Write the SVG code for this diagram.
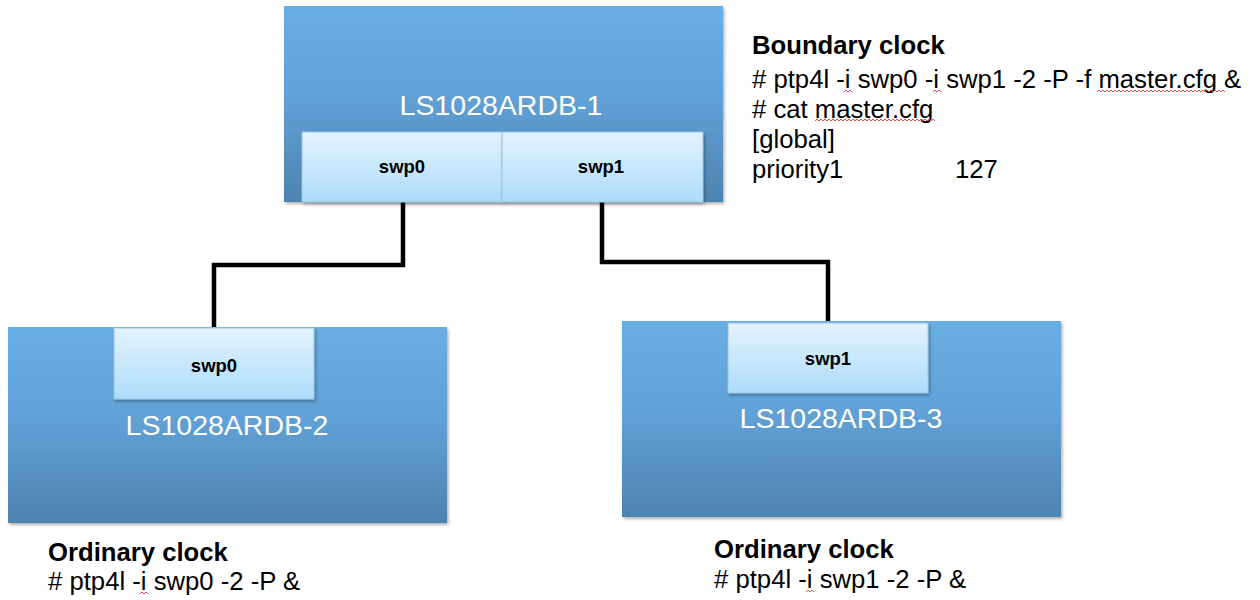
<svg xmlns="http://www.w3.org/2000/svg" width="1260" height="600" viewBox="0 0 1260 600">
<defs>
<linearGradient id="boxg" x1="0" y1="0" x2="0" y2="1">
<stop offset="0" stop-color="#69aee3"/>
<stop offset="0.45" stop-color="#61a2d8"/>
<stop offset="1" stop-color="#4e83af"/>
</linearGradient>
<linearGradient id="portg" x1="0" y1="0" x2="0" y2="1">
<stop offset="0" stop-color="#e4f3fd"/>
<stop offset="1" stop-color="#acdcfa"/>
</linearGradient>
<filter id="sh" x="-5%" y="-5%" width="112%" height="115%">
<feDropShadow dx="1.5" dy="2" stdDeviation="1.5" flood-color="#000" flood-opacity="0.3"/>
</filter>
</defs>
<style>
.box{fill:url(#boxg);filter:url(#sh);}
.port{fill:url(#portg);stroke:#9cc4e2;stroke-width:1;filter:url(#sh);}
.name{font-family:"Liberation Sans",Arial,sans-serif;font-size:28.5px;fill:#ffffff;text-anchor:middle;}
.plabel{font-family:"Liberation Sans",Arial,sans-serif;font-size:18.5px;font-weight:bold;fill:#000;text-anchor:middle;}
.hdr{font-family:"Liberation Sans",Arial,sans-serif;font-size:25.7px;font-weight:bold;fill:#000;}
.txt{font-family:"Liberation Sans",Arial,sans-serif;font-size:25.7px;fill:#000;}
.wire{fill:none;stroke:#000;stroke-width:4.5;stroke-linejoin:miter;}
.sq{fill:none;stroke:#e05050;stroke-width:1;}
</style>
<rect width="1260" height="600" fill="#ffffff"/>

<g id="connectors">
<polyline class="wire" points="403,202 403,265 214,265 214,327"/>
<polyline class="wire" points="602,202 602,262 828,262 828,322"/>
</g>

<g id="node-ls1028ardb-1">
<rect class="box" x="284" y="6" width="439" height="196"/>
<text class="name" x="501" y="115">LS1028ARDB-1</text>
<rect class="port" x="302" y="132" width="200" height="70"/>
<rect class="port" x="502" y="132" width="201" height="70"/>
<text class="plabel" x="402" y="173">swp0</text>
<text class="plabel" x="601" y="173">swp1</text>
</g>

<g id="node-ls1028ardb-2">
<rect class="box" x="8" y="327" width="439" height="196"/>
<rect class="port" x="114" y="328" width="200" height="71"/>
<text class="plabel" x="214" y="372">swp0</text>
<text class="name" x="227" y="435">LS1028ARDB-2</text>
</g>

<g id="node-ls1028ardb-3">
<rect class="box" x="622" y="321" width="439" height="196"/>
<rect class="port" x="728" y="323" width="200" height="70"/>
<text class="plabel" x="828" y="365">swp1</text>
<text class="name" x="841" y="428">LS1028ARDB-3</text>
</g>

<g id="note-boundary">
<text class="hdr" x="752" y="54">Boundary clock</text>
<text class="txt" x="752" y="88"># ptp4l -i swp0 -i swp1 -2 -P -f master.cfg &amp;</text>
<text class="txt" x="752" y="117.5"># cat master.cfg</text>
<text class="txt" x="752" y="147.5">[global]</text>
<text class="txt" x="752" y="178">priority1</text>
<text class="txt" x="955" y="178">127</text>
<path class="sq" d="M844,92 l2,-2 l2,2 l2,-2 l2,2"/>
<path class="sq" d="M933,92 l2,-2 l2,2 l2,-2 l2,2"/>
<path class="sq" d="M1097,92 l2,-2 l2,2 l2,-2 l2,2 l2,-2 l2,2 l2,-2 l2,2 l2,-2 l2,2 l2,-2 l2,2 l2,-2 l2,2 l2,-2 l2,2 l2,-2 l2,2 l2,-2 l2,2 l2,-2 l2,2 l2,-2 l2,2 l2,-2 l2,2 l2,-2 l2,2 l2,-2 l2,2 l2,-2 l2,2 l2,-2 l2,2 l2,-2 l2,2 l2,-2 l2,2 l2,-2 l2,2 l2,-2 l2,2 l2,-2 l2,2 l2,-2 l2,2 l2,-2 l2,2 l2,-2 l2,2 l2,-2 l2,2 l2,-2 l2,2 l2,-2 l2,2 l2,-2 l2,2 l2,-2 l2,2 l2,-2 l2,2 l2,-2 l2,2"/>
<path class="sq" d="M815,121 l2,-2 l2,2 l2,-2 l2,2 l2,-2 l2,2 l2,-2 l2,2 l2,-2 l2,2 l2,-2 l2,2 l2,-2 l2,2 l2,-2 l2,2 l2,-2 l2,2 l2,-2 l2,2 l2,-2 l2,2 l2,-2 l2,2 l2,-2 l2,2 l2,-2 l2,2 l2,-2 l2,2 l2,-2 l2,2 l2,-2 l2,2 l2,-2 l2,2 l2,-2 l2,2 l2,-2 l2,2 l2,-2 l2,2 l2,-2 l2,2 l2,-2 l2,2 l2,-2 l2,2 l2,-2 l2,2 l2,-2 l2,2 l2,-2 l2,2 l2,-2 l2,2 l2,-2 l2,2 l2,-2 l2,2"/>
</g>

<g id="note-ordinary-2">
<text class="hdr" x="48" y="561">Ordinary clock</text>
<text class="txt" x="48" y="590"># ptp4l -i swp0 -2 -P &amp;</text>
<path class="sq" d="M140,594 l2,-2 l2,2 l2,-2 l2,2"/>
</g>

<g id="note-ordinary-3">
<text class="hdr" x="714" y="558">Ordinary clock</text>
<text class="txt" x="714" y="588"># ptp4l -i swp1 -2 -P &amp;</text>
<path class="sq" d="M806,592 l2,-2 l2,2 l2,-2 l2,2"/>
</g>
</svg>
